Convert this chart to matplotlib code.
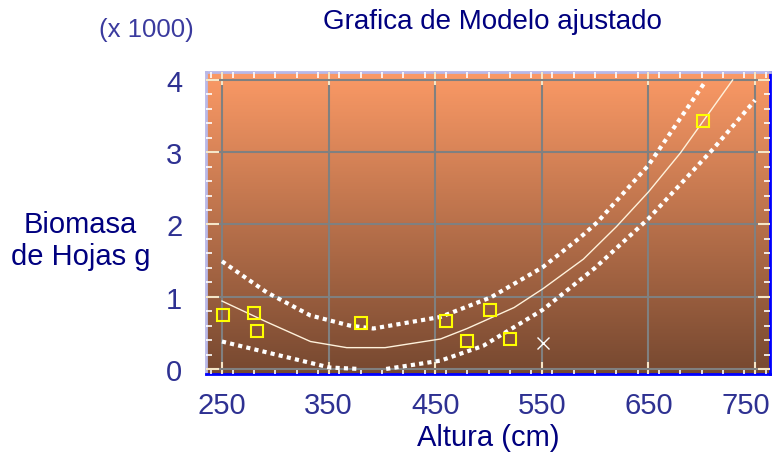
import numpy as np
import matplotlib.pyplot as plt
import matplotlib.transforms as mtransforms
from matplotlib.ticker import MultipleLocator

plt.rcParams['font.family'] = ['Liberation Sans', 'DejaVu Sans']

# observed points
obs_x = [251, 280, 283, 380, 460, 480, 501, 520, 701]
obs_y = [0.75, 0.77, 0.53, 0.63, 0.67, 0.39, 0.82, 0.415, 3.43]
# excluded point
out_x = [551]
out_y = [0.36]

# fitted model
fit_x = [250, 292, 333, 367, 403, 455, 480, 524, 551, 589, 620, 650, 680, 729]
fit_y = [0.94, 0.65, 0.38, 0.295, 0.295, 0.415, 0.56, 0.85, 1.11, 1.52, 1.97, 2.45, 2.99, 4.0]

# upper band
up_x = [250, 292, 333, 370, 392, 455, 502, 551, 586, 602, 650, 703]
up_y = [1.49, 1.06, 0.74, 0.60, 0.56, 0.72, 0.99, 1.41, 1.82, 2.03, 2.82, 3.97]

# lower band
lo_x = [250, 292, 351, 379, 391, 404, 455, 495, 551, 600, 650, 711, 750]
lo_y = [0.38, 0.23, 0.02, 0.0, np.nan, 0.0, 0.115, 0.32, 0.82, 1.40, 2.08, 3.05, 3.72]

xticks = [250, 350, 450, 550, 650, 750]
yticks = [0, 1, 2, 3, 4]

xlim = (235, 764)
ylim = (-0.07, 4.11)

fig = plt.figure(figsize=(7.72, 4.56), dpi=100)
ax = fig.add_axes([0.2668, 0.1776, 0.7306, 0.6623])

# gradient background
top = np.array([252, 154, 102]) / 255
bot = np.array([118, 72, 48]) / 255
t = np.linspace(0, 1, 256)[:, None]
grad = (top * (1 - t) + bot * t)[:, None, :]
ax.imshow(grad, extent=(xlim[0], xlim[1], ylim[0], ylim[1]), aspect='auto', zorder=0)

ax.set_xlim(xlim)
ax.set_ylim(ylim)
ax.set_xticks(xticks)
ax.set_yticks(yticks)
ax.xaxis.set_minor_locator(MultipleLocator(20))
ax.yaxis.set_minor_locator(MultipleLocator(0.2))
ax.grid(True, which='major', color='#808080', linewidth=1.5, zorder=1)
ax.set_axisbelow(False)

ax.plot(up_x, up_y, color='white', linewidth=3, linestyle=(0, (1, 1)), zorder=3)
ax.plot(lo_x, lo_y, color='white', linewidth=3, linestyle=(0, (1, 1)), zorder=3)
ax.plot(fit_x, fit_y, color='#FFF2DC', linewidth=1, zorder=3)
ax.plot(obs_x, obs_y, linestyle='none', marker='s', markersize=8, markerfacecolor='none',
        markeredgecolor='#FFFF00', markeredgewidth=1.5, zorder=4)
ax.plot(out_x, out_y, linestyle='none', marker='x', markersize=9, color='white',
        markeredgewidth=1, zorder=4)

ax.tick_params(which='major', direction='in', length=9, width=1.5, color='#F5E6C8',
               top=True, right=True, labelsize=21, labelcolor='#2E3192', pad=12)
ax.tick_params(axis='y', which='major', pad=17)
ax.tick_params(which='minor', direction='in', length=4, width=1.2, color='white',
               top=True, right=True)

# last x label pulled inward so it stays inside the figure
last = ax.get_xticklabels()[-1]
last.set_transform(last.get_transform() + mtransforms.ScaledTranslation(-9 / 100, 0, fig.dpi_scale_trans))

for s in ['left', 'top']:
    ax.spines[s].set_color('#B8B8E8')
    ax.spines[s].set_linewidth(2)
for s in ['right', 'bottom']:
    ax.spines[s].set_color('#0000FF')
    ax.spines[s].set_linewidth(2)

ax.set_xlabel('Altura (cm)', fontsize=21, color='#00007F', labelpad=3)
fig.text(0.104, 0.472, 'Biomasa\nde Hojas g', fontsize=21, color='#00007F',
         ha='center', va='center', linespacing=1.2)
fig.text(0.19, 0.935, '(x 1000)', fontsize=18.5, color='#3A3A9E', ha='center', va='center')
fig.text(0.638, 0.952, 'Grafica de Modelo ajustado', fontsize=20, color='#00007F',
         ha='center', va='center')

plt.savefig('out.png', dpi=100)
